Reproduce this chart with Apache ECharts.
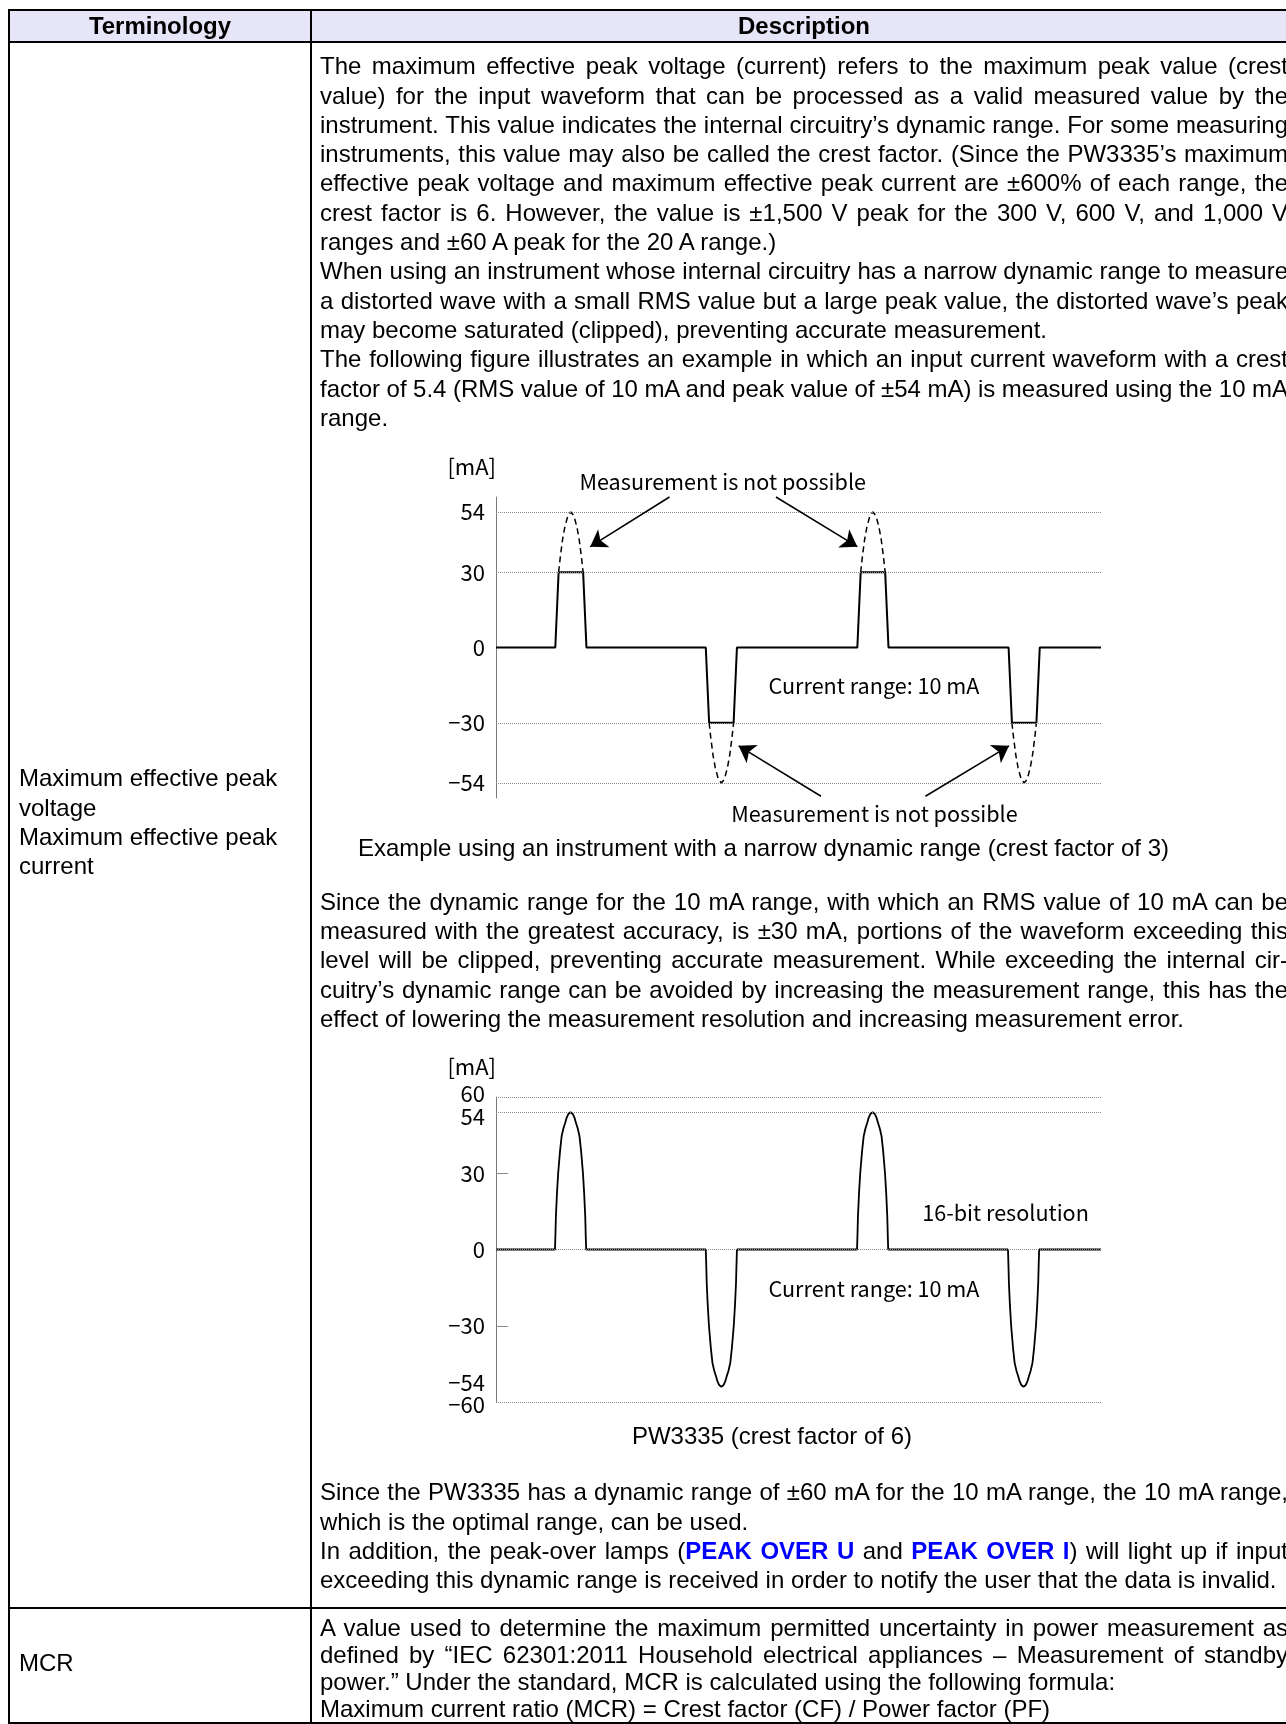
<!DOCTYPE html>
<html><head><meta charset="utf-8">
<script src="https://cdn.jsdelivr.net/npm/echarts@6.0.0/dist/echarts.min.js"></script>
<style>
html,body{margin:0;padding:0;background:#fff;}
body{width:1286px;height:1724px;overflow:hidden;position:relative;font-family:"Liberation Sans",Arial,sans-serif;color:#000;}
#chart{position:absolute;left:0;top:0;width:1286px;height:1724px;z-index:1;}
.hl{position:absolute;background:#000;z-index:3}
.hdr{position:absolute;left:10px;top:11px;width:1290px;height:30px;background:#e6e6f8;z-index:0}
.tb{position:absolute;font-size:24px;line-height:29.3px;z-index:2;}
.tb div{text-align:justify;text-align-last:justify;}
.tb div.l{text-align:left;text-align-last:left;}
.hd{position:absolute;font-size:24px;line-height:29.3px;font-weight:bold;text-align:center;z-index:2;top:11.4px;}
.blue{color:#0000ff;font-weight:bold;}
</style></head>
<body>
<div class="hdr"></div>
<div class="hl" style="left:8px;top:9px;width:1300px;height:2px"></div>
<div class="hl" style="left:8px;top:41px;width:1300px;height:2px"></div>
<div class="hl" style="left:8px;top:1607px;width:1300px;height:2px"></div>
<div class="hl" style="left:8px;top:1722px;width:1300px;height:2px;z-index:1"></div>
<div class="hl" style="left:8px;top:9px;width:2px;height:1715px"></div>
<div class="hl" style="left:310px;top:9px;width:2px;height:1715px"></div>

<div class="hd" style="left:10px;width:300px">Terminology</div>
<div class="hd" style="left:312px;width:984px">Description</div>

<div class="tb" style="left:19px;top:763.4px;width:285px">
<div class="l">Maximum effective peak</div>
<div class="l">voltage</div>
<div class="l">Maximum effective peak</div>
<div class="l">current</div>
</div>
<div class="tb" style="left:19px;top:1647.8px;width:285px"><div class="l">MCR</div></div>

<div class="tb" style="left:320px;top:51.3px;width:968px">
<div>The maximum effective peak voltage (current) refers to the maximum peak value (crest</div>
<div>value) for the input waveform that can be processed as a valid measured value by the</div>
<div>instrument. This value indicates the internal circuitry’s dynamic range. For some measuring</div>
<div>instruments, this value may also be called the crest factor. (Since the PW3335’s maximum</div>
<div>effective peak voltage and maximum effective peak current are ±600% of each range, the</div>
<div>crest factor is 6. However, the value is ±1,500 V peak for the 300 V, 600 V, and 1,000 V</div>
<div class="l">ranges and ±60 A peak for the 20 A range.)</div>
<div>When using an instrument whose internal circuitry has a narrow dynamic range to measure</div>
<div>a distorted wave with a small RMS value but a large peak value, the distorted wave’s peak</div>
<div class="l">may become saturated (clipped), preventing accurate measurement.</div>
<div>The following figure illustrates an example in which an input current waveform with a crest</div>
<div style="word-spacing:-0.5px">factor of 5.4 (RMS value of 10 mA and peak value of ±54 mA) is measured using the 10 mA</div>
<div class="l">range.</div>
</div>

<div class="tb" style="left:358px;top:833.4px;width:900px"><div class="l">Example using an instrument with a narrow dynamic range (crest factor of 3)</div></div>

<div class="tb" style="left:320px;top:886.8px;width:968px">
<div>Since the dynamic range for the 10 mA range, with which an RMS value of 10 mA can be</div>
<div>measured with the greatest accuracy, is ±30 mA, portions of the waveform exceeding this</div>
<div>level will be clipped, preventing accurate measurement. While exceeding the internal cir-</div>
<div>cuitry’s dynamic range can be avoided by increasing the measurement range, this has the</div>
<div class="l">effect of lowering the measurement resolution and increasing measurement error.</div>
</div>

<div class="tb" style="left:572px;top:1420.8px;width:400px"><div class="l" style="text-align:center;text-align-last:center">PW3335 (crest factor of 6)</div></div>

<div class="tb" style="left:320px;top:1477.3px;width:968px">
<div>Since the PW3335 has a dynamic range of ±60 mA for the 10 mA range, the 10 mA range,</div>
<div class="l">which is the optimal range, can be used.</div>
<div>In addition, the peak-over lamps (<span class="blue">PEAK OVER U</span> and <span class="blue">PEAK OVER I</span>) will light up if input</div>
<div class="l">exceeding this dynamic range is received in order to notify the user that the data is invalid.</div>
</div>

<div class="tb" style="left:320px;top:1614px;width:968px;line-height:27px">
<div>A value used to determine the maximum permitted uncertainty in power measurement as</div>
<div>defined by “IEC 62301:2011 Household electrical appliances – Measurement of standby</div>
<div class="l">power.” Under the standard, MCR is calculated using the following formula:</div>
<div class="l">Maximum current ratio (MCR) = Crest factor (CF) / Power factor (PF)</div>
</div>

<div id="chart"></div>
<script>
// ---------- data ----------
const yUnit = '[mA]';
// Figure 1: narrow dynamic range (clipped at ±30 mA)
const fig1TickValues = [54, 30, 0, -30, -54];
const fig1TickLabels = ['54', '30', '0', '−30', '−54'];
const fig1GridValues = [54, 30, -30, -54];
const fig1Clipped = [[0,0],[0.392,0],[0.414,30],[0.576,30],[0.598,0],[1.387,0],[1.409,-30],[1.571,-30],[1.593,0],[2.389,0],[2.411,30],[2.573,30],[2.595,0],[3.389,0],[3.411,-30],[3.573,-30],[3.595,0],[4,0]];
const fig1Lost1 = [[0.414,30],[0.425,36],[0.44,43],[0.455,48],[0.475,52.5],[0.495,54],[0.515,52.5],[0.535,48],[0.55,43],[0.565,36],[0.576,30]];
const fig1Lost2 = [[1.409,-30],[1.42,-36],[1.435,-43],[1.45,-48],[1.47,-52.5],[1.49,-54],[1.51,-52.5],[1.53,-48],[1.545,-43],[1.56,-36],[1.571,-30]];
const fig1Lost3 = [[2.411,30],[2.422,36],[2.437,43],[2.452,48],[2.472,52.5],[2.492,54],[2.512,52.5],[2.532,48],[2.547,43],[2.562,36],[2.573,30]];
const fig1Lost4 = [[3.411,-30],[3.422,-36],[3.437,-43],[3.452,-48],[3.472,-52.5],[3.492,-54],[3.512,-52.5],[3.532,-48],[3.547,-43],[3.562,-36],[3.573,-30]];
const fig1NoteText = 'Measurement is not possible';
const fig1RangeText = 'Current range: 10 mA';
// Figure 2: PW3335 (±60 mA dynamic range)
const fig2TickValues = [60, 54, 30, 0, -30, -54, -60];
const fig2TickLabels = ['60', '54', '30', '0', '−30', '−54', '−60'];
const fig2GridValues = [60, 54, 0, -60];
const fig2ShortTicks = [30, -30];
const fig2Wave = [[0,0],
 [0.390,0],[0.393,6],[0.396,13],[0.403,22],[0.411,30],[0.423,38.5],[0.434,44.6],[0.446,47.7],[0.458,50],[0.468,52],[0.478,53.3],[0.493,54],[0.508,53.3],[0.518,52],[0.528,50],[0.540,47.7],[0.552,44.6],[0.563,38.5],[0.575,30],[0.583,22],[0.590,13],[0.593,6],[0.596,0],
 [1.387,0],[1.390,-6],[1.393,-13],[1.400,-22],[1.408,-30],[1.420,-38.5],[1.431,-44.6],[1.443,-47.7],[1.455,-50],[1.465,-52],[1.475,-53.3],[1.490,-54],[1.505,-53.3],[1.515,-52],[1.525,-50],[1.537,-47.7],[1.549,-44.6],[1.560,-38.5],[1.572,-30],[1.580,-22],[1.587,-13],[1.590,-6],[1.593,0],
 [2.387,0],[2.390,6],[2.393,13],[2.400,22],[2.408,30],[2.420,38.5],[2.431,44.6],[2.443,47.7],[2.455,50],[2.465,52],[2.475,53.3],[2.490,54],[2.505,53.3],[2.515,52],[2.525,50],[2.537,47.7],[2.549,44.6],[2.560,38.5],[2.572,30],[2.580,22],[2.587,13],[2.590,6],[2.593,0],
 [3.385,0],[3.388,-6],[3.391,-13],[3.398,-22],[3.406,-30],[3.418,-38.5],[3.429,-44.6],[3.441,-47.7],[3.453,-50],[3.463,-52],[3.473,-53.3],[3.488,-54],[3.503,-53.3],[3.513,-52],[3.523,-50],[3.535,-47.7],[3.547,-44.6],[3.558,-38.5],[3.570,-30],[3.578,-22],[3.585,-13],[3.588,-6],[3.591,0],
 [4,0]];
const fig2ResText = '16-bit resolution';
const fig2RangeText = 'Current range: 10 mA';

// ---------- styling / layout ----------
const CJK = '"Noto Sans CJK JP","Noto Sans",sans-serif';
const NOTE_FS = 21.6;
const gridLine = {type: 'dotted', color: '#8a8a8a', width: 1};
const labelNudge = {'60': -3, '54': 4, '-54': -4, '-60': 3};

function gridSeries(xi, values, x2, style) {
  return {
    type: 'line', xAxisIndex: xi, yAxisIndex: xi, data: [[0, 0]], symbol: 'none',
    lineStyle: {opacity: 0}, silent: true, z: 1,
    markLine: {
      symbol: ['none', 'none'], silent: true, animation: false,
      lineStyle: style, label: {show: false},
      data: values.map(v => [{coord: [0, v]}, {coord: [x2, v]}])
    }
  };
}
function yAxisDef(gi, gap) {
  return {
    gridIndex: gi, type: 'value', min: -60, max: 60,
    axisLine: {show: true, onZero: false, lineStyle: {color: '#7a7a7a', width: 1}},
    axisTick: {show: false}, axisLabel: {show: false}, splitLine: {show: false},
    name: yUnit, nameLocation: 'end', nameGap: gap,
    nameTextStyle: {align: 'right', color: '#000', fontFamily: CJK, fontSize: 22}
  };
}
const dashed = {color: '#000', width: 1.5, type: [6, 4]};
const lostSeries = [fig1Lost1, fig1Lost2, fig1Lost3, fig1Lost4].map(d => ({
  type: 'line', xAxisIndex: 0, yAxisIndex: 0, data: d, symbol: 'none', lineStyle: dashed, z: 3, silent: true
}));

const option = {
  animation: false,
  grid: [
    {left: 496, top: 497, width: 605, height: 301},
    {left: 496, top: 1097, width: 605, height: 305}
  ],
  xAxis: [
    {gridIndex: 0, type: 'value', min: 0, max: 4, show: false},
    {gridIndex: 1, type: 'value', min: 0, max: 4, show: false}
  ],
  yAxis: [yAxisDef(0, 19), yAxisDef(1, 19)],
  series: [
    gridSeries(0, fig1GridValues, 4, gridLine),
    {
      type: 'line', xAxisIndex: 0, yAxisIndex: 0, data: fig1Clipped, symbol: 'none',
      lineStyle: {color: '#000', width: 2}, z: 4, silent: true,
      markLine: {
        symbol: ['none', 'arrow'], symbolSize: 16, silent: true, animation: false,
        lineStyle: {color: '#000', width: 1.5, type: 'solid'}, label: {show: false},
        data: [
          [{coord: [1.147, 60]}, {coord: [0.623, 40.2]}],
          [{coord: [1.851, 60]}, {coord: [2.389, 40.2]}],
          [{coord: [2.149, -59.3]}, {coord: [1.604, -39.2]}],
          [{coord: [2.839, -59.3]}, {coord: [3.392, -39.2]}]
        ]
      }
    },
    ...lostSeries,
    gridSeries(1, fig2GridValues, 4, gridLine),
    gridSeries(1, fig2ShortTicks, 0.08, {type: 'solid', color: '#8a8a8a', width: 1}),
    {
      type: 'line', xAxisIndex: 1, yAxisIndex: 1, data: fig2Wave, symbol: 'none',
      lineStyle: {color: '#000', width: 1.8}, z: 4, silent: true
    }
  ]
};
const chart = echarts.init(document.getElementById('chart'), null, {renderer: 'canvas'});
chart.setOption(option);

// text annotations placed through the chart's own scales
function txt(gi, coord, text, size, align, dx, dy) {
  const p = chart.convertToPixel({gridIndex: gi}, coord);
  return {
    type: 'text', x: p[0] + (dx || 0), y: p[1] + (dy || 0), silent: true, z: 10,
    style: {text: text, fill: '#000', font: size + 'px ' + CJK,
      align: align, verticalAlign: 'middle', textAlign: align, textVerticalAlign: 'middle'}
  };
}
const g = [];
fig1TickValues.forEach((v, i) => g.push(txt(0, [0, v], fig1TickLabels[i], 22, 'right', -11, 0)));
fig2TickValues.forEach((v, i) => g.push(txt(1, [0, v], fig2TickLabels[i], 22, 'right', -11, labelNudge[String(v)] || 0)));
g.push(txt(0, [1.499, 66.1], fig1NoteText, NOTE_FS, 'center'));
g.push(txt(0, [2.502, -66.3], fig1NoteText, NOTE_FS, 'center'));
g.push(txt(0, [2.499, -15.3], fig1RangeText, NOTE_FS, 'center'));
g.push(txt(1, [3.369, 14.4], fig2ResText, NOTE_FS, 'center'));
g.push(txt(1, [2.499, -15.6], fig2RangeText, NOTE_FS, 'center'));
chart.setOption({graphic: g});
</script>
</body></html>
